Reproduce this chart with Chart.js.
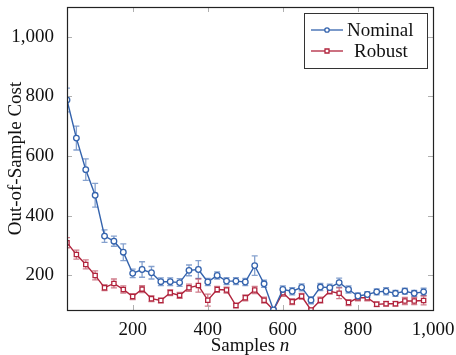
<!DOCTYPE html>
<html>
<head>
<meta charset="utf-8">
<script src="https://cdn.jsdelivr.net/npm/chart.js@4.4.0/dist/chart.umd.min.js"></script>
<style>
html, body { margin: 0; padding: 0; background: #fff; }
#wrap { width: 456px; height: 355px; position: relative; }
</style>
</head>
<body>
<div id="wrap"><canvas id="chart"></canvas></div>
<script>
// Data
const samples = [25, 50, 75, 100, 125, 150, 175, 200, 225, 250, 275, 300, 325, 350, 375, 400, 425, 450, 475, 500,
                 525, 550, 575, 600, 625, 650, 675, 700, 725, 750, 775, 800, 825, 850, 875, 900, 925, 950, 975];
const nominal = [788, 660, 554, 468, 331, 314, 277, 206, 219, 208, 178, 178, 175, 216, 219, 177, 199, 180, 180, 177,
                 232, 171, 83, 152, 146, 159, 116, 160, 158, 175, 152, 130, 135, 144, 146, 139, 146, 139, 144];
const nominalErr = [40, 40, 36, 40, 21, 17, 28, 14, 26, 21, 13, 13, 13, 18, 30, 12, 12, 12, 12, 12,
                    33, 12, 5, 12, 12, 12, 12, 12, 12, 15, 12, 10, 10, 10, 12, 10, 10, 10, 12];
const robust = [309, 269, 236, 199, 158, 172, 152, 128, 153, 121, 115, 141, 132, 158, 165, 116, 152, 150, 98, 124,
                150, 116, 83, 141, 111, 129, 83, 116, 146, 139, 108, 124, 124, 102, 104, 104, 113, 113, 115];
const robustErr = [17, 15, 15, 15, 10, 15, 12, 10, 12, 10, 8, 10, 10, 12, 22, 20, 10, 10, 8, 10,
                   12, 10, 5, 12, 10, 10, 5, 10, 10, 18, 10, 10, 10, 8, 8, 8, 12, 12, 15];
const xTicks = [200, 400, 600, 800, 1000];
const yTicks = [200, 400, 600, 800, 1000];

const FONT = "'Liberation Serif', 'DejaVu Serif', serif";
const FSIZE = 19;
const BLUE = '#3463ad';
const RED = '#b1243d';

function toPoints(ys) {
    return samples.map((x, i) => ({ x: x, y: ys[i] }));
}

// Error bars, drawn with the chart's own scales
const errorBars = {
    id: 'errorBars',
    beforeDatasetsDraw(chart) {
        const ctx = chart.ctx;
        const xs = chart.scales.x, ys = chart.scales.y;
        const sets = [
            { vals: nominal, errs: nominalErr, color: 'rgba(52, 99, 173, 0.6)' },
            { vals: robust, errs: robustErr, color: 'rgba(177, 36, 61, 0.6)' }
        ];
        const a = chart.chartArea;
        ctx.save();
        ctx.beginPath();
        ctx.rect(a.left, a.top, a.right - a.left, a.bottom - a.top);
        ctx.clip();
        sets.forEach(s => {
            ctx.strokeStyle = s.color;
            ctx.lineWidth = 1.3;
            samples.forEach((x, i) => {
                const px = xs.getPixelForValue(x);
                const top = ys.getPixelForValue(s.vals[i] + s.errs[i]);
                const bot = ys.getPixelForValue(s.vals[i] - s.errs[i]);
                ctx.beginPath();
                ctx.moveTo(px, top); ctx.lineTo(px, bot);
                ctx.moveTo(px - 3, top); ctx.lineTo(px + 3, top);
                ctx.moveTo(px - 3, bot); ctx.lineTo(px + 3, bot);
                ctx.stroke();
            });
        });
        ctx.restore();
    }
};

// Frame, inner tick marks, axis titles and legend box
const decorations = {
    id: 'decorations',
    afterDraw(chart) {
        const ctx = chart.ctx;
        const a = chart.chartArea;
        const xs = chart.scales.x, ys = chart.scales.y;
        ctx.save();

        // inner tick marks
        ctx.strokeStyle = '#b0b0b0';
        ctx.lineWidth = 1;
        ctx.beginPath();
        yTicks.forEach(v => {
            const py = Math.round(ys.getPixelForValue(v)) + 0.5;
            ctx.moveTo(a.left, py); ctx.lineTo(a.left + 5, py);
            ctx.moveTo(a.right, py); ctx.lineTo(a.right - 5, py);
        });
        xTicks.forEach(v => {
            const px = Math.round(xs.getPixelForValue(v)) + 0.5;
            ctx.moveTo(px, a.bottom); ctx.lineTo(px, a.bottom - 5);
            ctx.moveTo(px, a.top); ctx.lineTo(px, a.top + 5);
        });
        ctx.stroke();

        // frame
        ctx.strokeStyle = '#222';
        ctx.lineWidth = 1.2;
        ctx.strokeRect(Math.round(a.left) + 0.5, Math.round(a.top) + 0.5,
                       Math.round(a.right - a.left), Math.round(a.bottom - a.top));

        // axis titles
        ctx.fillStyle = '#111';
        ctx.textBaseline = 'alphabetic';
        const t1 = 'Samples ';
        ctx.font = 'italic ' + FSIZE + 'px ' + FONT;
        const wn = ctx.measureText('n').width;
        ctx.font = FSIZE + 'px ' + FONT;
        const w1 = ctx.measureText(t1).width;
        const cx = (a.left + a.right) / 2;
        const sx = cx - (w1 + wn) / 2;
        ctx.textAlign = 'left';
        ctx.fillText(t1, sx, 351);
        ctx.font = 'italic ' + FSIZE + 'px ' + FONT;
        ctx.fillText('n', sx + w1, 351);

        ctx.save();
        ctx.translate(21, (a.top + a.bottom) / 2);
        ctx.rotate(-Math.PI / 2);
        ctx.textAlign = 'center';
        ctx.font = FSIZE + 'px ' + FONT;
        ctx.fillText('Out-of-Sample Cost', 0, 0);
        ctx.restore();

        // legend
        const lx = 304, ly = 13, lw = 123, lh = 55;
        ctx.fillStyle = '#fff';
        ctx.fillRect(lx, ly, lw, lh);
        ctx.strokeStyle = '#333';
        ctx.lineWidth = 1;
        ctx.strokeRect(lx + 0.5, ly + 0.5, lw, lh);
        const entries = [
            { label: 'Nominal', color: BLUE, style: 'circle', y: 30, tx: 347 },
            { label: 'Robust', color: RED, style: 'rect', y: 51, tx: 354 }
        ];
        entries.forEach(e => {
            ctx.strokeStyle = e.color;
            ctx.lineWidth = 1.3;
            ctx.beginPath();
            ctx.moveTo(311, e.y); ctx.lineTo(343, e.y);
            ctx.stroke();
            ctx.fillStyle = '#fff';
            ctx.beginPath();
            if (e.style === 'circle') {
                ctx.arc(327, e.y, 2.2, 0, Math.PI * 2);
            } else {
                ctx.rect(325, e.y - 2, 4, 4);
            }
            ctx.fill();
            ctx.stroke();
            ctx.fillStyle = '#111';
            ctx.font = FSIZE + 'px ' + FONT;
            ctx.textAlign = 'left';
            ctx.textBaseline = 'middle';
            ctx.fillText(e.label, e.tx, e.y + 1);
        });
        ctx.restore();
    }
};

const ctx = document.getElementById('chart').getContext('2d');
new Chart(ctx, {
    type: 'line',
    data: {
        datasets: [{
            label: 'Nominal',
            data: toPoints(nominal),
            borderColor: BLUE,
            backgroundColor: '#fff',
            borderWidth: 1.4,
            pointStyle: 'circle',
            pointRadius: 2.8,
            pointBorderWidth: 1.3,
            tension: 0
        }, {
            label: 'Robust',
            data: toPoints(robust),
            borderColor: RED,
            backgroundColor: '#fff',
            borderWidth: 1.4,
            pointStyle: 'rect',
            pointRadius: 3,
            pointBorderWidth: 1.3,
            tension: 0
        }]
    },
    options: {
        responsive: true,
        maintainAspectRatio: false,
        animation: false,
        layout: { padding: { left: 0, top: 7, right: 23, bottom: 0 } },
        plugins: {
            legend: { display: false },
            tooltip: { enabled: false }
        },
        scales: {
            x: {
                type: 'linear',
                min: 25,
                max: 1000,
                afterBuildTicks: s => { s.ticks = xTicks.map(v => ({ value: v })); },
                afterFit: s => { s.height = 45; s.paddingLeft = 0; s.paddingRight = 0; },
                grid: { display: false },
                border: { display: false },
                ticks: {
                    color: '#111',
                    padding: 1,
                    maxRotation: 0,
                    font: { family: FONT, size: FSIZE },
                    callback: v => v.toLocaleString('en-US')
                }
            },
            y: {
                min: 83,
                max: 1100,
                afterBuildTicks: s => { s.ticks = yTicks.map(v => ({ value: v })); },
                afterFit: s => { s.width = 67; s.paddingTop = 0; s.paddingBottom = 0; },
                grid: { display: false },
                border: { display: false },
                ticks: {
                    color: '#111',
                    padding: 5,
                    font: { family: FONT, size: FSIZE },
                    callback: v => v.toLocaleString('en-US')
                }
            }
        }
    },
    plugins: [errorBars, decorations]
});
</script>
</body>
</html>
